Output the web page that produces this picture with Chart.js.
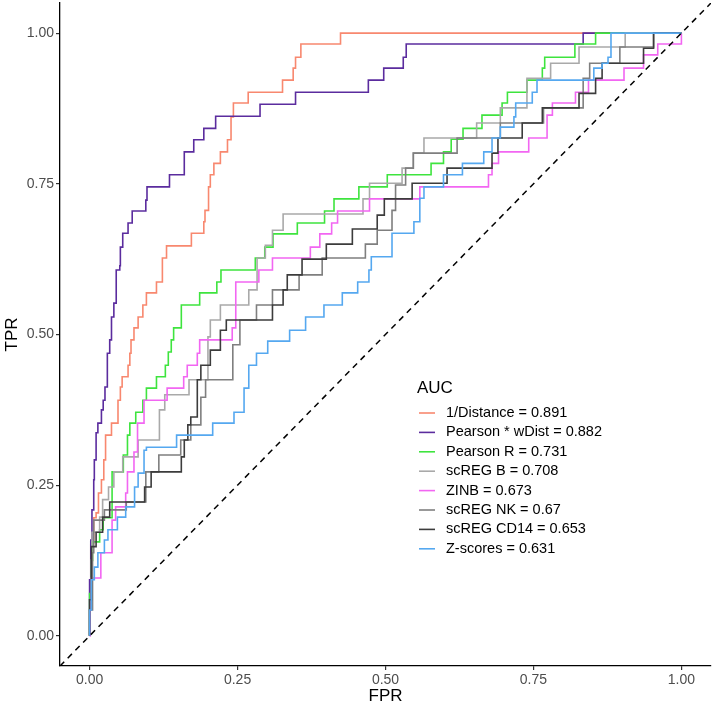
<!DOCTYPE html>
<html>
<head>
<meta charset="utf-8">
<script src="https://cdn.jsdelivr.net/npm/chart.js@4.4.1/dist/chart.umd.min.js"></script>
<style>
  html, body { margin: 0; padding: 0; background: #fff; }
  canvas { display: block; }
</style>
</head>
<body>
<canvas id="roc" width="712" height="709"></canvas>
<script>
// methods in legend order, with their AUC
const methods = ['1/Distance', 'Pearson * wDist', 'Pearson R', 'scREG B', 'ZINB', 'scREG NK', 'scREG CD14', 'Z-scores'];
const aucs = ['0.891', '0.882', '0.731', '0.708', '0.673', '0.67', '0.653', '0.631'];
const colors = ['#F8886F', '#5B2C9E', '#3EE43E', '#A9A9A9', '#F266F2', '#7F7F7F', '#3C3C3C', '#55A8F0'];

// ROC points (FPR where TPR jumps, TPR after the jump)
const distFpr = [0, 0, 0.002, 0.007, 0.011, 0.015, 0.020, 0.024, 0.027, 0.037, 0.048, 0.052, 0.055, 0.065, 0.068, 0.070, 0.075, 0.082, 0.090, 0.096, 0.113, 0.123, 0.130, 0.172, 0.193, 0.195, 0.201, 0.204, 0.210, 0.221, 0.233, 0.239, 0.243, 0.268, 0.326, 0.344, 0.348, 0.357, 0.424, 1];
const distTpr = [0, 0.043, 0.154, 0.196, 0.204, 0.237, 0.259, 0.292, 0.333, 0.353, 0.391, 0.413, 0.430, 0.449, 0.469, 0.491, 0.511, 0.529, 0.549, 0.569, 0.587, 0.627, 0.647, 0.668, 0.687, 0.706, 0.745, 0.765, 0.784, 0.803, 0.823, 0.861, 0.884, 0.902, 0.922, 0.942, 0.960, 0.982, 1, 1];

const wdistFpr = [0, 0, 0.002, 0.004, 0.007, 0.008, 0.011, 0.014, 0.020, 0.023, 0.026, 0.030, 0.034, 0.037, 0.041, 0.045, 0.051, 0.052, 0.056, 0.065, 0.072, 0.095, 0.097, 0.135, 0.160, 0.176, 0.193, 0.213, 0.288, 0.348, 0.471, 0.497, 0.530, 0.535, 0.834, 1];
const wdistTpr = [0, 0.093, 0.159, 0.209, 0.259, 0.292, 0.337, 0.353, 0.375, 0.391, 0.413, 0.469, 0.491, 0.529, 0.552, 0.607, 0.614, 0.645, 0.668, 0.685, 0.705, 0.723, 0.745, 0.765, 0.803, 0.823, 0.842, 0.862, 0.882, 0.902, 0.922, 0.942, 0.960, 0.982, 1, 1];

const pearsonFpr = [0, 0, 0.003, 0.005, 0.017, 0.023, 0.038, 0.057, 0.064, 0.068, 0.078, 0.090, 0.096, 0.113, 0.128, 0.133, 0.138, 0.142, 0.155, 0.186, 0.215, 0.222, 0.280, 0.296, 0.310, 0.351, 0.397, 0.413, 0.455, 0.503, 0.577, 0.598, 0.611, 0.631, 0.663, 0.697, 0.706, 0.739, 0.765, 0.769, 0.820, 0.855, 1];
const pearsonTpr = [0, 0.07, 0.125, 0.156, 0.176, 0.196, 0.272, 0.300, 0.333, 0.353, 0.371, 0.391, 0.411, 0.430, 0.449, 0.471, 0.491, 0.511, 0.549, 0.569, 0.587, 0.607, 0.627, 0.645, 0.667, 0.685, 0.705, 0.725, 0.745, 0.765, 0.784, 0.803, 0.824, 0.842, 0.864, 0.884, 0.902, 0.922, 0.942, 0.960, 0.982, 1, 1];

const bFpr = [0, 0, 0.003, 0.004, 0.017, 0.022, 0.032, 0.041, 0.056, 0.082, 0.118, 0.127, 0.168, 0.200, 0.204, 0.221, 0.269, 0.283, 0.297, 0.309, 0.327, 0.462, 0.473, 0.528, 0.547, 0.565, 0.654, 0.694, 0.739, 0.779, 0.827, 0.905, 1];
const bTpr = [0, 0.060, 0.126, 0.172, 0.197, 0.226, 0.247, 0.272, 0.297, 0.325, 0.375, 0.400, 0.425, 0.496, 0.524, 0.549, 0.574, 0.627, 0.648, 0.673, 0.700, 0.725, 0.751, 0.776, 0.801, 0.826, 0.851, 0.876, 0.925, 0.950, 0.977, 1, 1];

const zinbFpr = [0, 0.001, 0.003, 0.019, 0.038, 0.044, 0.061, 0.064, 0.075, 0.081, 0.092, 0.131, 0.159, 0.165, 0.182, 0.186, 0.241, 0.247, 0.286, 0.309, 0.373, 0.389, 0.409, 0.419, 0.473, 0.558, 0.674, 0.680, 0.691, 0.742, 0.773, 0.782, 0.821, 0.843, 0.903, 0.936, 0.960, 1];
const zinbTpr = [0, 0.043, 0.096, 0.138, 0.192, 0.214, 0.237, 0.272, 0.305, 0.353, 0.391, 0.411, 0.430, 0.449, 0.469, 0.491, 0.511, 0.587, 0.607, 0.627, 0.645, 0.667, 0.685, 0.705, 0.725, 0.745, 0.765, 0.784, 0.803, 0.826, 0.864, 0.884, 0.902, 0.922, 0.942, 0.964, 0.982, 1];

const nkFpr = [0, 0, 0.005, 0.007, 0.025, 0.062, 0.095, 0.117, 0.154, 0.171, 0.188, 0.196, 0.242, 0.254, 0.282, 0.309, 0.354, 0.393, 0.466, 0.486, 0.511, 0.517, 0.534, 0.547, 0.621, 0.694, 0.767, 0.834, 0.845, 0.896, 0.953, 1];
const nkTpr = [0, 0.043, 0.138, 0.192, 0.209, 0.222, 0.272, 0.300, 0.325, 0.350, 0.396, 0.425, 0.483, 0.524, 0.549, 0.574, 0.599, 0.627, 0.650, 0.673, 0.706, 0.748, 0.776, 0.801, 0.826, 0.851, 0.876, 0.925, 0.950, 0.977, 1, 1];

const cd14Fpr = [0, 0, 0.003, 0.011, 0.022, 0.034, 0.093, 0.104, 0.155, 0.160, 0.166, 0.171, 0.182, 0.188, 0.204, 0.221, 0.231, 0.309, 0.327, 0.334, 0.359, 0.400, 0.444, 0.486, 0.498, 0.545, 0.604, 0.680, 0.690, 0.731, 0.765, 0.827, 0.855, 0.866, 0.936, 0.953, 1];
const cd14Tpr = [0, 0.060, 0.148, 0.172, 0.197, 0.222, 0.247, 0.272, 0.297, 0.325, 0.350, 0.363, 0.425, 0.449, 0.474, 0.507, 0.524, 0.549, 0.574, 0.599, 0.625, 0.650, 0.675, 0.698, 0.725, 0.751, 0.776, 0.801, 0.826, 0.851, 0.876, 0.900, 0.925, 0.950, 0.975, 1, 1];

const zFpr = [0, 0, 0.003, 0.008, 0.014, 0.025, 0.031, 0.047, 0.061, 0.076, 0.082, 0.092, 0.096, 0.147, 0.208, 0.244, 0.261, 0.269, 0.282, 0.301, 0.338, 0.365, 0.396, 0.427, 0.453, 0.472, 0.476, 0.511, 0.548, 0.558, 0.565, 0.598, 0.630, 0.666, 0.680, 0.694, 0.717, 0.720, 0.748, 0.756, 0.852, 0.866, 0.876, 0.881, 1];
const zTpr = [0, 0.043, 0.093, 0.114, 0.138, 0.159, 0.176, 0.197, 0.214, 0.247, 0.270, 0.308, 0.313, 0.333, 0.353, 0.371, 0.411, 0.449, 0.469, 0.489, 0.507, 0.529, 0.549, 0.569, 0.587, 0.607, 0.629, 0.668, 0.687, 0.726, 0.745, 0.765, 0.784, 0.803, 0.826, 0.844, 0.861, 0.884, 0.902, 0.922, 0.942, 0.950, 0.960, 1, 1];

// chance line spans the whole panel
const diagonal = [-0.05, 1.05];
const tickValues = [0, 0.25, 0.5, 0.75, 1];

const fprs = [distFpr, wdistFpr, pearsonFpr, bFpr, zinbFpr, nkFpr, cd14Fpr, zFpr];
const tprs = [distTpr, wdistTpr, pearsonTpr, bTpr, zinbTpr, nkTpr, cd14Tpr, zTpr];

const font = '"Liberation Sans", Arial, Helvetica, sans-serif';

const datasets = methods.map((name, i) => ({
  label: name + ' = ' + aucs[i],
  data: fprs[i].map((x, j) => ({ x: x, y: tprs[i][j] })),
  borderColor: colors[i],
  borderWidth: 1.6,
  pointRadius: 0,
  stepped: 'before',
  fill: false,
  order: methods.length - i
}));
datasets.push({
  label: 'chance',
  data: diagonal.map(v => ({ x: v, y: v })),
  borderColor: '#000',
  borderWidth: 1.5,
  borderDash: [6, 5],
  pointRadius: 0,
  fill: false,
  order: 0
});

// legend drawn inside the panel, like the ggplot one
const panelLegend = {
  id: 'panelLegend',
  afterDatasetsDraw(chart) {
    const ctx = chart.ctx;
    ctx.save();
    ctx.textBaseline = 'middle';
    ctx.textAlign = 'left';
    ctx.fillStyle = '#000';
    ctx.font = '17px ' + font;
    ctx.fillText('AUC', 417, 388);
    ctx.font = '14.5px ' + font;
    methods.forEach((m, i) => {
      const ds = chart.data.datasets[i];
      const y = 413 + i * 19.4;
      ctx.strokeStyle = ds.borderColor;
      ctx.lineWidth = 1.6;
      ctx.beginPath();
      ctx.moveTo(419, y);
      ctx.lineTo(435, y);
      ctx.stroke();
      ctx.fillText(ds.label, 446, y);
    });
    ctx.restore();
  }
};

const axisOpts = (title, fitBox, titlePad) => ({
  type: 'linear',
  min: -0.05,
  max: 1.05,
  afterBuildTicks: axis => { axis.ticks = tickValues.map(v => ({ value: v })); },
  afterFit: s => {
    fitBox(s);
    // end labels sit well inside the range, no extra room needed
    s.paddingTop = 0; s.paddingBottom = 0; s.paddingLeft = 0; s.paddingRight = 0;
  },
  grid: { display: true, drawOnChartArea: false, drawTicks: true, tickLength: 4, color: '#333', lineWidth: 1.2 },
  border: { display: true, color: '#000', width: 1.3 },
  ticks: {
    color: '#4D4D4D',
    font: { family: font, size: 14 },
    padding: 2,
    maxRotation: 0,
    callback: v => v.toFixed(2)
  },
  title: { display: true, text: title, color: '#000', font: { family: font, size: 17 }, padding: titlePad }
});

new Chart(document.getElementById('roc'), {
  type: 'line',
  data: { datasets: datasets },
  options: {
    responsive: false,
    animation: false,
    devicePixelRatio: 1,
    layout: { padding: { top: 3, right: 1, left: 0, bottom: 0 } },
    elements: { line: { tension: 0 } },
    plugins: { legend: { display: false }, tooltip: { enabled: false } },
    scales: {
      x: axisOpts('FPR', s => { s.height = 43; }, { top: 0, bottom: 2 }),
      y: axisOpts('TPR', s => { s.width = 60; }, { top: 2, bottom: 0 })
    }
  },
  plugins: [panelLegend]
});
</script>
</body>
</html>
